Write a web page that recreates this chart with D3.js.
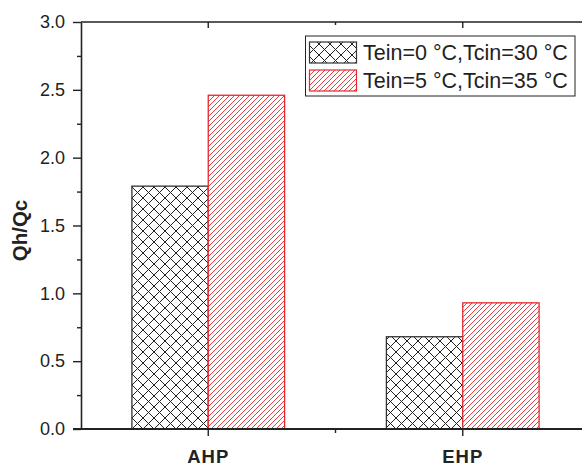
<!DOCTYPE html>
<html><head><meta charset="utf-8">
<script src="https://cdn.jsdelivr.net/npm/d3@7"></script>
<style>
html,body{margin:0;padding:0;background:#fff;overflow:hidden;}
svg{display:block;font-family:"Liberation Sans",Arial,sans-serif;}
</style></head>
<body>
<script>
const categories = ["AHP", "EHP"];
const seriesNames = ["Tein=0 \u00B0C,Tcin=30 \u00B0C", "Tein=5 \u00B0C,Tcin=35 \u00B0C"];
const seriesA = [1.79, 0.68];
const seriesB = [2.46, 0.93];
const yTicks = [0, 0.5, 1.0, 1.5, 2.0, 2.5, 3.0];
const yMinor = [0.25, 0.75, 1.25, 1.75, 2.25, 2.75];
const yLabel = "Qh/Qc";

(function () {
const W = 582, H = 466;
const pL = 81, pR = 590, pT = 22, pB = 429;

const svg = d3.select("body").append("svg").attr("width", W).attr("height", H);
const defs = svg.append("defs");

// cross-hatch pattern (black)
const pc = defs.append("pattern").attr("id", "cross").attr("patternUnits", "userSpaceOnUse")
  .attr("width", 11).attr("height", 11);
pc.append("path").attr("d", "M0,0L11,11M0,11L11,0M-1,1L1,-1M10,12L12,10M-1,10L1,12M10,-1L12,1")
  .attr("stroke", "#222").attr("stroke-width", 1.0).attr("fill", "none");
// diagonal pattern (red)
const pr = defs.append("pattern").attr("id", "diag").attr("patternUnits", "userSpaceOnUse")
  .attr("width", 5).attr("height", 5);
pr.append("path").attr("d", "M0,5L5,0M-1,1L1,-1M4,6L6,4")
  .attr("stroke", "#e8262e").attr("stroke-width", 0.9).attr("fill", "none");

const fills = ["url(#cross)", "url(#diag)"];
const strokes = ["#333", "#e8262e"];

const x = d3.scaleBand().domain(categories).range([pL, pR]).paddingInner(0.4).paddingOuter(0.2);
const xs = d3.scaleBand().domain([0, 1]).range([0, x.bandwidth()]);
const y = d3.scaleLinear().domain([0, 3]).range([pB, pT]);

const data = categories.map((c, i) => ({cat: c, vals: [seriesA[i], seriesB[i]]}));

// bars
const g = svg.append("g");
data.forEach(d => {
  d.vals.forEach((v, k) => {
    g.append("rect")
      .attr("x", x(d.cat) + xs(k))
      .attr("y", y(v))
      .attr("width", xs.bandwidth())
      .attr("height", y(0) - y(v))
      .attr("fill", "#fff");
    g.append("rect")
      .attr("x", x(d.cat) + xs(k))
      .attr("y", y(v))
      .attr("width", xs.bandwidth())
      .attr("height", y(0) - y(v))
      .attr("fill", fills[k])
      .attr("stroke", strokes[k]).attr("stroke-width", 1.3);
  });
});

const axisColor = "#222";
// left axis
const yAxis = svg.append("g").attr("transform", `translate(${pL},0)`)
  .call(d3.axisLeft(y).tickValues(yTicks).tickFormat(d3.format(".1f")).tickSize(8).tickSizeOuter(0));
yAxis.select(".domain").attr("stroke", axisColor).attr("stroke-width", 1.6);
yAxis.selectAll(".tick line").attr("stroke", axisColor).attr("stroke-width", 1.4);
yAxis.selectAll(".tick text").attr("font-size", 18).attr("fill", "#222")
  .attr("font-family", "'Liberation Sans', Arial, sans-serif").attr("x", -16);
const yMin = svg.append("g").attr("transform", `translate(${pL},0)`)
  .call(d3.axisLeft(y).tickValues(yMinor).tickSize(4).tickFormat(""));
yMin.select(".domain").remove();
yMin.selectAll(".tick line").attr("stroke", axisColor).attr("stroke-width", 1.4);

// right axis (inward)
const yR = svg.append("g").attr("transform", `translate(${pR},0)`)
  .call(d3.axisLeft(y).tickValues(yTicks).tickSize(-8).tickFormat("").tickSizeOuter(0));
yR.select(".domain").attr("stroke", axisColor).attr("stroke-width", 1.6);
yR.selectAll(".tick line").attr("stroke", axisColor).attr("stroke-width", 1.4);

// bottom axis
const xAxis = svg.append("g").attr("transform", `translate(0,${pB})`)
  .call(d3.axisBottom(x).tickSize(7).tickSizeOuter(0).tickPadding(8));
xAxis.select(".domain").attr("stroke", axisColor).attr("stroke-width", 1.8).attr("d", `M${pL - 8},0H${pR}`);
xAxis.selectAll(".tick line").attr("stroke", axisColor).attr("stroke-width", 1.4);
xAxis.selectAll(".tick text").attr("font-size", 18.5).attr("font-weight", "bold").attr("fill", "#222")
  .attr("letter-spacing", 1).attr("dy", "1.05em")
  .attr("font-family", "'Liberation Sans', Arial, sans-serif");
// minor tick between categories
const midX = (x(categories[0]) + x.bandwidth() + x(categories[1])) / 2;
svg.append("line").attr("x1", midX).attr("x2", midX).attr("y1", pB).attr("y2", pB + 4)
  .attr("stroke", axisColor).attr("stroke-width", 1.4);

// top axis (inward)
const xTop = svg.append("g").attr("transform", `translate(0,${pT})`)
  .call(d3.axisTop(x).tickSize(-6).tickSizeOuter(0).tickFormat(""));
xTop.select(".domain").attr("stroke", axisColor).attr("stroke-width", 1.6).attr("d", `M${pL},0H${pR}`);
xTop.selectAll(".tick line").attr("stroke", axisColor).attr("stroke-width", 1.4);
svg.append("line").attr("x1", midX).attr("x2", midX).attr("y1", pT).attr("y2", pT + 3)
  .attr("stroke", axisColor).attr("stroke-width", 1.4);

// y label
svg.append("text")
  .attr("transform", `translate(27,${(pT + pB) / 2 + 5}) rotate(-90)`)
  .attr("text-anchor", "middle")
  .attr("font-size", 20.5).attr("font-weight", "bold").attr("fill", "#222")
  .text(yLabel);

// legend
const lg = svg.append("g");
lg.append("rect").attr("x", 305.5).attr("y", 36).attr("width", 269.5).attr("height", 60)
  .attr("fill", "#fff").attr("stroke", "#222").attr("stroke-width", 1);
seriesNames.forEach((name, k) => {
  const yy = 42 + k * 28;
  lg.append("rect").attr("x", 309.5).attr("y", yy).attr("width", 47).attr("height", 21)
    .attr("fill", fills[k]).attr("stroke", strokes[k]).attr("stroke-width", 1.2);
  lg.append("text").attr("x", 363).attr("y", yy + 18).attr("font-size", 21.5).attr("fill", "#222")
    .text(name);
});
})();
</script>
</body></html>
